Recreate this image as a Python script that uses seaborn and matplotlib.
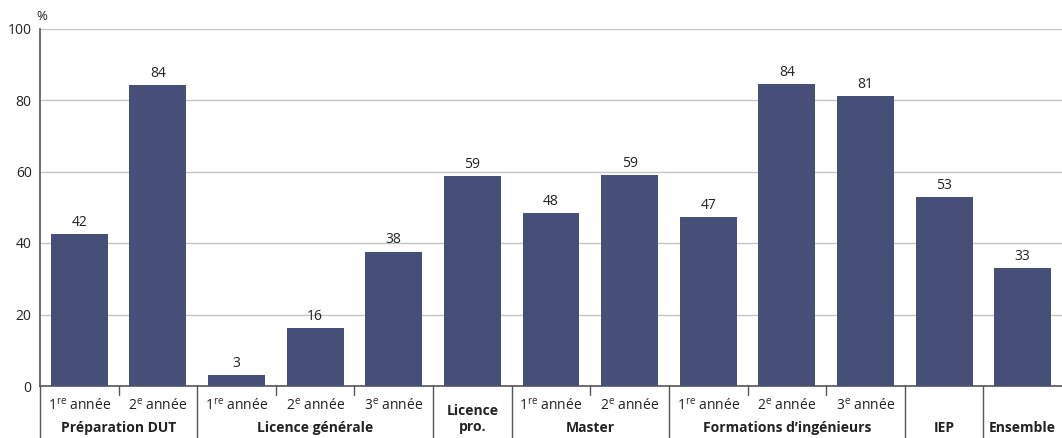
import matplotlib
matplotlib.use("Agg")
import matplotlib.pyplot as plt
import seaborn as sns
import pandas as pd

# ---- data ----
bar_ids = ["DUT1", "DUT2", "LG1", "LG2", "LG3", "LP", "M1", "M2", "FI1", "FI2", "FI3", "IEP", "ENS"]
values = [42.4, 84.2, 3.1, 16.2, 37.6, 58.7, 48.3, 59.0, 47.3, 84.4, 81.1, 52.9, 33.0]
value_labels = ["42", "84", "3", "16", "38", "59", "48", "59", "47", "84", "81", "53", "33"]
year_labels = ["1$^{\\mathrm{re}}$ année", "2$^{\\mathrm{e}}$ année",
               "1$^{\\mathrm{re}}$ année", "2$^{\\mathrm{e}}$ année", "3$^{\\mathrm{e}}$ année",
               "", "1$^{\\mathrm{re}}$ année", "2$^{\\mathrm{e}}$ année",
               "1$^{\\mathrm{re}}$ année", "2$^{\\mathrm{e}}$ année", "3$^{\\mathrm{e}}$ année",
               "", ""]
group_names = ["Préparation DUT", "Licence générale", "Licence\npro.", "Master",
               "Formations d’ingénieurs", "IEP", "Ensemble"]
group_sizes = [2, 3, 1, 2, 3, 1, 1]
yticks = [0, 20, 40, 60, 80, 100]

BAR = "#454f78"

sns.set_theme(style="white")
plt.rcParams['font.family'] = ['Open Sans', 'DejaVu Sans']
plt.rcParams['mathtext.fontset'] = 'custom'
plt.rcParams['mathtext.rm'] = 'Open Sans'

fig = plt.figure(figsize=(10.62, 4.38), dpi=100)
W, H = 1062, 438
ax_left, ax_right, ax_top, ax_bottom = 40, 1062, 28.5, 386
ax = fig.add_axes([ax_left / W, (H - ax_bottom) / H, (ax_right - ax_left) / W, (ax_bottom - ax_top) / H])

df = pd.DataFrame({"id": bar_ids, "val": values})
sns.barplot(data=df, x="id", y="val", order=bar_ids, color=BAR, saturation=1,
            width=0.725, ax=ax, zorder=3)
for p in ax.patches:
    p.set_edgecolor("none")

ax.bar_label(ax.containers[0], labels=value_labels, padding=3, fontsize=10, color="#222222")

ax.set_xlim(-0.5, len(bar_ids) - 0.5)
ax.set_ylim(0, 100)
ax.set_yticks(yticks)
ax.set_yticklabels([str(t) for t in yticks], fontsize=10, color="#222222")
ax.tick_params(axis="y", length=0, pad=6)
ax.set_xticks([])
ax.set_xlabel("")
ax.set_ylabel("")
ax.grid(axis="y", color="#c4c4c4", linewidth=1, zorder=0)
for s in ["top", "right"]:
    ax.spines[s].set_visible(False)
ax.spines["left"].set_color("#555555")
ax.spines["bottom"].set_color("#555555")
ax.spines["left"].set_linewidth(1.2)
ax.spines["bottom"].set_linewidth(1.2)

ax.text(ax_left / W - 0.003, 1 - 16 / H, "%", transform=fig.transFigure, fontsize=9.5,
        ha="left", va="center", color="#222222")

ah = ax_bottom - ax_top
tr = ax.get_xaxis_transform()
y_year = -20 / ah
y_group = -42 / ah
y_pro = -33 / ah
y_line_end = -(H - ax_bottom) / ah
y_tick_end = -9 / ah

for i, lab in enumerate(year_labels):
    if lab:
        ax.text(i, y_year, lab, transform=tr, ha="center", va="center", fontsize=10, color="#222222")

start = 0
boundaries = [start - 0.5]
for name, n in zip(group_names, group_sizes):
    center = start + (n - 1) / 2
    if "\n" in name:
        ax.text(center, y_pro, name, transform=tr, ha="center", va="center",
                fontsize=10, fontweight="bold", color="#222222", linespacing=1.2)
    else:
        ax.text(center, y_group, name, transform=tr, ha="center", va="center",
                fontsize=10, fontweight="bold", color="#222222")
    for k in range(1, n):
        ax.plot([start + k - 0.5] * 2, [0, y_tick_end], transform=tr, color="#555555",
                lw=1, clip_on=False)
    start += n
    boundaries.append(start - 0.5)

for b in boundaries[:-1]:
    ax.plot([b, b], [0, y_line_end], transform=tr, color="#555555", lw=1, clip_on=False)

fig.savefig("out.png", dpi=100)
